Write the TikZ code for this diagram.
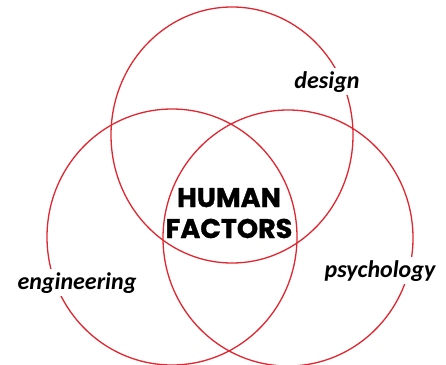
\documentclass[tikz,border=0pt]{standalone}
\usepackage{fontspec}
\newfontfamily\fieldfont{Carlito}
\newfontfamily\corefont{Poppins}[BoldFeatures={FakeBold=1.2}]
\usetikzlibrary{positioning}

\definecolor{vennred}{RGB}{225,38,48}
\tikzset{
  ring/.style={draw=vennred,line width=1.3pt},
  field/.style={font=\fieldfont\bfseries\itshape\fontsize{24}{24}\selectfont,fill=white,inner sep=3pt,anchor=base},
  core/.style={font=\corefont\bfseries\fontsize{27}{27}\selectfont,inner sep=0pt,anchor=base}
}

\begin{document}
\begin{tikzpicture}[x=1pt,y=-1pt]
\useasboundingbox (0,0) rectangle (446,364);

% the three rings
\draw[ring] (232,135) ellipse [x radius=121pt, y radius=128pt];
\draw[ring] (172,237) ellipse [x radius=125pt, y radius=128pt];
\draw[ring] (288,238) ellipse [x radius=125pt, y radius=128pt];

% field labels
\node[field] (design) at (327,88) {design};
\node[field] (engineering) at (77,289) {engineering};
\node[field] (psychology) at (380,277) {psychology};

% middle
\node[core] (human) at (229,207) {HUMAN};
\node[core] (factors) at (229,238) {FACTORS};
\end{tikzpicture}
\end{document}
